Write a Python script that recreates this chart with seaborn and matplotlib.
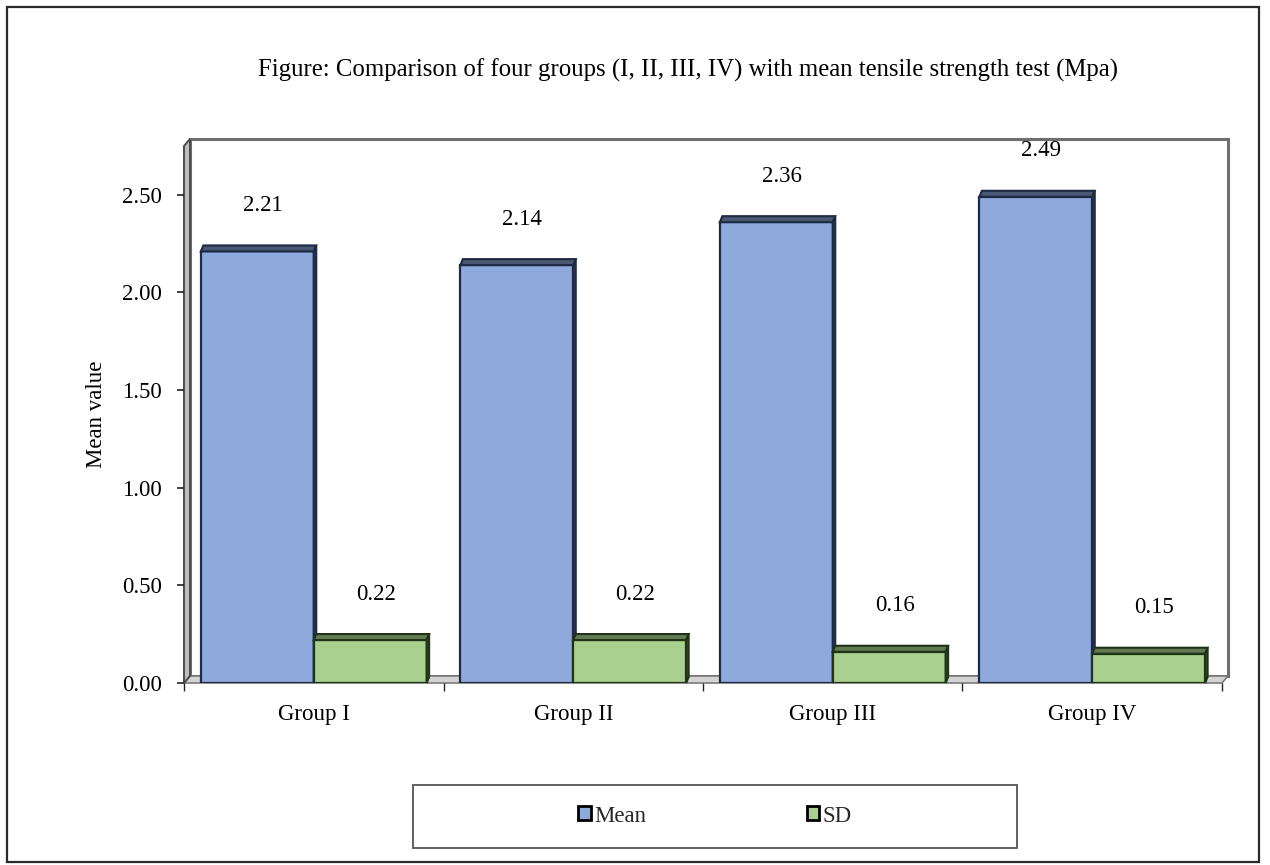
import numpy as np
import pandas as pd
import matplotlib
matplotlib.use("Agg")
import matplotlib.pyplot as plt
import seaborn as sns
from matplotlib.patches import Polygon, Rectangle, Patch
from matplotlib.transforms import IdentityTransform
from matplotlib.colors import to_rgb

# ---- data ----
groups = ["Group I", "Group II", "Group III", "Group IV"]
mean_vals = [2.21, 2.14, 2.36, 2.49]
sd_vals = [0.22, 0.22, 0.16, 0.15]
series = ["Mean", "SD"]
y_ticks = [0.00, 0.50, 1.00, 1.50, 2.00, 2.50]

title = "Figure: Comparison of four groups (I, II, III, IV) with mean tensile strength test (Mpa)"

df = pd.DataFrame({
    "group": groups * 2,
    "stat": ["Mean"] * len(groups) + ["SD"] * len(groups),
    "value": mean_vals + sd_vals,
})

blue = "#8EAADC"
green = "#A9D08E"
edge_col = {"Mean": "#1e2a44", "SD": "#1f3319"}

sns.set_theme(style="white")
plt.rcParams["font.family"] = ["Liberation Serif", "DejaVu Serif"]
FS = 16.5

W, H = 1270, 865
fig = plt.figure(figsize=(W / 100, H / 100), dpi=100)
fig.patch.set_facecolor("white")

# front plane of the 3-D plot area (pixel geometry)
x_left, x_right, y_zero, y_top = 184, 1222, 683, 146
ax = fig.add_axes([x_left / W, (H - y_zero) / H,
                   (x_right - x_left) / W, (y_zero - y_top) / H])
ax.set_facecolor("none")

sns.barplot(data=df, x="group", y="value", hue="stat", order=groups,
            hue_order=series, palette=[blue, green], width=0.87,
            edgecolor="#1c1c1c", linewidth=1.6, legend=False, ax=ax,
            errorbar=None, saturation=1)

ax.set_xlim(-0.5, len(groups) - 0.5)
ax.set_ylim(0, 2.75)
for s in ax.spines.values():
    s.set_visible(False)

# the bar rectangles drawn by seaborn, left to right, with their series
bar_info = []
for name, cont in zip(series, ax.containers):
    for p in cont:
        bar_info.append((p, name))
bar_info.sort(key=lambda t: t[0].get_x())

def shade(c, f):
    r, g, b = to_rgb(c)
    return (r * f, g * f, b * f)

T = ax.transData
X0d, Y0d = T.transform((-0.5, 0))
X1d, Y1d = T.transform((len(groups) - 0.5, 2.75))

# back wall, floor and left side wall (behind the bars)
wdx, wdy = 6, 7
back = Rectangle((X0d + wdx, Y0d + wdy), X1d - X0d, Y1d - Y0d,
                 facecolor="white", edgecolor="#6e6e6e", linewidth=2.2,
                 transform=IdentityTransform(), zorder=0.2, clip_on=False)
ax.add_artist(back)
floor = Polygon([(X0d, Y0d), (X1d, Y0d), (X1d + wdx, Y0d + wdy), (X0d + wdx, Y0d + wdy)],
                closed=True, facecolor="#d4d4d4", edgecolor="#7a7a7a", linewidth=1.2,
                transform=IdentityTransform(), zorder=0.3, clip_on=False)
ax.add_artist(floor)
lwall = Polygon([(X0d, Y0d), (X0d, Y1d), (X0d + wdx, Y1d + wdy), (X0d + wdx, Y0d + wdy)],
                closed=True, facecolor="#bdbdbd", edgecolor="#4a4a4a", linewidth=1.4,
                transform=IdentityTransform(), zorder=0.4, clip_on=False)
ax.add_artist(lwall)

# extrude each bar: top face and right side face, then its value label
dx, dy = 2.5, 6
for i, (p, name) in enumerate(bar_info):
    x0, w, h = p.get_x(), p.get_width(), p.get_height()
    fc = p.get_facecolor()
    ec = edge_col[name]
    p.set_edgecolor(ec)
    z = 2 + i * 0.1
    p.set_zorder(z)
    (Xa, Ya) = T.transform((x0, 0))
    (Xb, Yb) = T.transform((x0 + w, h))
    f_top = 0.52 if name == "Mean" else 0.58
    top = Polygon([(Xa, Yb), (Xb, Yb), (Xb + dx, Yb + dy), (Xa + dx, Yb + dy)],
                  closed=True, facecolor=shade(fc[:3], f_top), edgecolor=ec,
                  linewidth=1.5, transform=IdentityTransform(), zorder=z + 0.01,
                  clip_on=False)
    side = Polygon([(Xb, Ya), (Xb, Yb), (Xb + dx, Yb + dy), (Xb + dx, Ya + dy)],
                   closed=True, facecolor=shade(fc[:3], 0.4), edgecolor=ec,
                   linewidth=1.5, transform=IdentityTransform(), zorder=z + 0.01,
                   clip_on=False)
    ax.add_artist(top)
    ax.add_artist(side)
    ax.annotate(f"{h:.2f}", xy=(x0 + w / 2, h), xytext=(4, 33),
                textcoords="offset points", ha="center", va="center",
                fontsize=FS, color="black", annotation_clip=False)

# axes ticks and labels
ax.set_yticks(y_ticks)
ax.set_yticklabels([f"{v:.2f}" for v in y_ticks])
ax.set_xticks(range(len(groups)))
ax.set_xticklabels(groups)
ax.set_xticks(np.arange(-0.5, len(groups), 1.0), minor=True)
ax.tick_params(axis="y", left=True, length=5, width=1.2, color="#222222",
               pad=11, labelsize=FS, labelcolor="black")
ax.tick_params(axis="x", which="major", bottom=False, length=0, pad=15,
               labelsize=FS, labelcolor="black")
ax.tick_params(axis="x", which="minor", bottom=True, length=6, width=1.0,
               color="#222222")
ax.set_xlabel("")
ax.set_ylabel("Mean value", fontsize=FS, color="black", labelpad=11)

fig.text(688 / W, 1 - 70 / H, title, ha="center", va="center",
         fontsize=17.8, color="black")

# legend inside its own box
box = Rectangle((413 / W, (H - 848) / H), (1017 - 413) / W, (848 - 785) / H,
                transform=fig.transFigure, facecolor="white",
                edgecolor="#555555", linewidth=1.3)
fig.add_artist(box)
handles = [Patch(facecolor=blue, edgecolor="black", linewidth=2.0),
           Patch(facecolor=green, edgecolor="black", linewidth=2.0)]
fig.legend(handles, series, loc="center", bbox_to_anchor=(715 / W, 1 - 816 / H),
           ncol=2, frameon=False, fontsize=FS, handlelength=0.55,
           handleheight=0.55, handletextpad=0.15, columnspacing=7.0)

# outer frame
fig.add_artist(Rectangle((7 / W, 3 / H), (1259 - 7) / W, (860 - 5) / H,
                         transform=fig.transFigure, fill=False,
                         edgecolor="#2a2a2a", linewidth=1.6))

fig.savefig("out.png", dpi=100, facecolor="white")
